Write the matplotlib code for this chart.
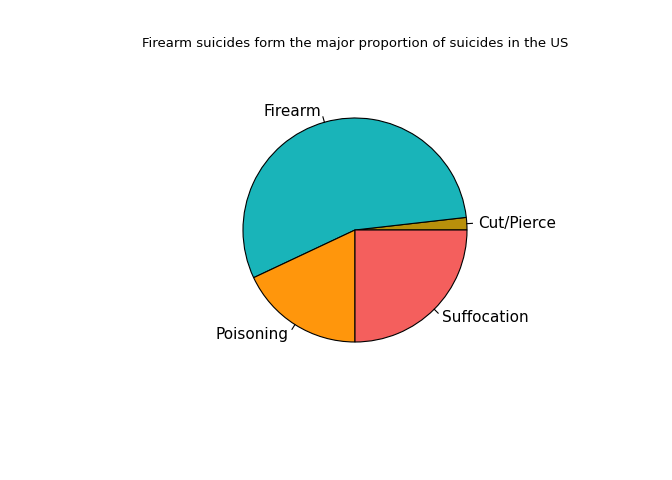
import matplotlib
matplotlib.use("Agg")
import matplotlib.pyplot as plt
import numpy as np

categories = ["Cut/Pierce", "Firearm", "Poisoning", "Suffocation"]
shares = [1.8, 55.2, 18.0, 25.0]
colors = ["#B8900B", "#19B4B9", "#FF960C", "#F45F5D"]

fig = plt.figure(figsize=(6.72, 4.8), dpi=100)
ax = fig.add_axes([0, 0, 1, 1])
ax.set_xlim(0, 672)
ax.set_ylim(0, 480)
ax.set_aspect("equal")
ax.axis("off")

cx, cy, r = 355, 250, 112
wedges, _ = ax.pie(shares, colors=colors, startangle=0, counterclock=True,
                   center=(cx, cy), radius=r, frame=True,
                   wedgeprops=dict(edgecolor="black", linewidth=0.8))
ax.set_xlim(0, 672)
ax.set_ylim(0, 480)
ax.axis("off")

for w, lab in zip(wedges, categories):
    mid = np.deg2rad((w.theta1 + w.theta2) / 2)
    c, s = np.cos(mid), np.sin(mid)
    ax.plot([cx + r * c, cx + 1.05 * r * c], [cy + r * s, cy + 1.05 * r * s],
            color="black", lw=0.8)
    ax.text(cx + 1.1 * r * c, cy + 1.1 * r * s, lab, fontsize=11,
            ha="left" if c > 0 else "right", va="center")

ax.text(355, 437, "Firearm suicides form the major proportion of suicides in the US",
        ha="center", va="center", fontsize=9.5)
fig.savefig("out.png", dpi=100)
